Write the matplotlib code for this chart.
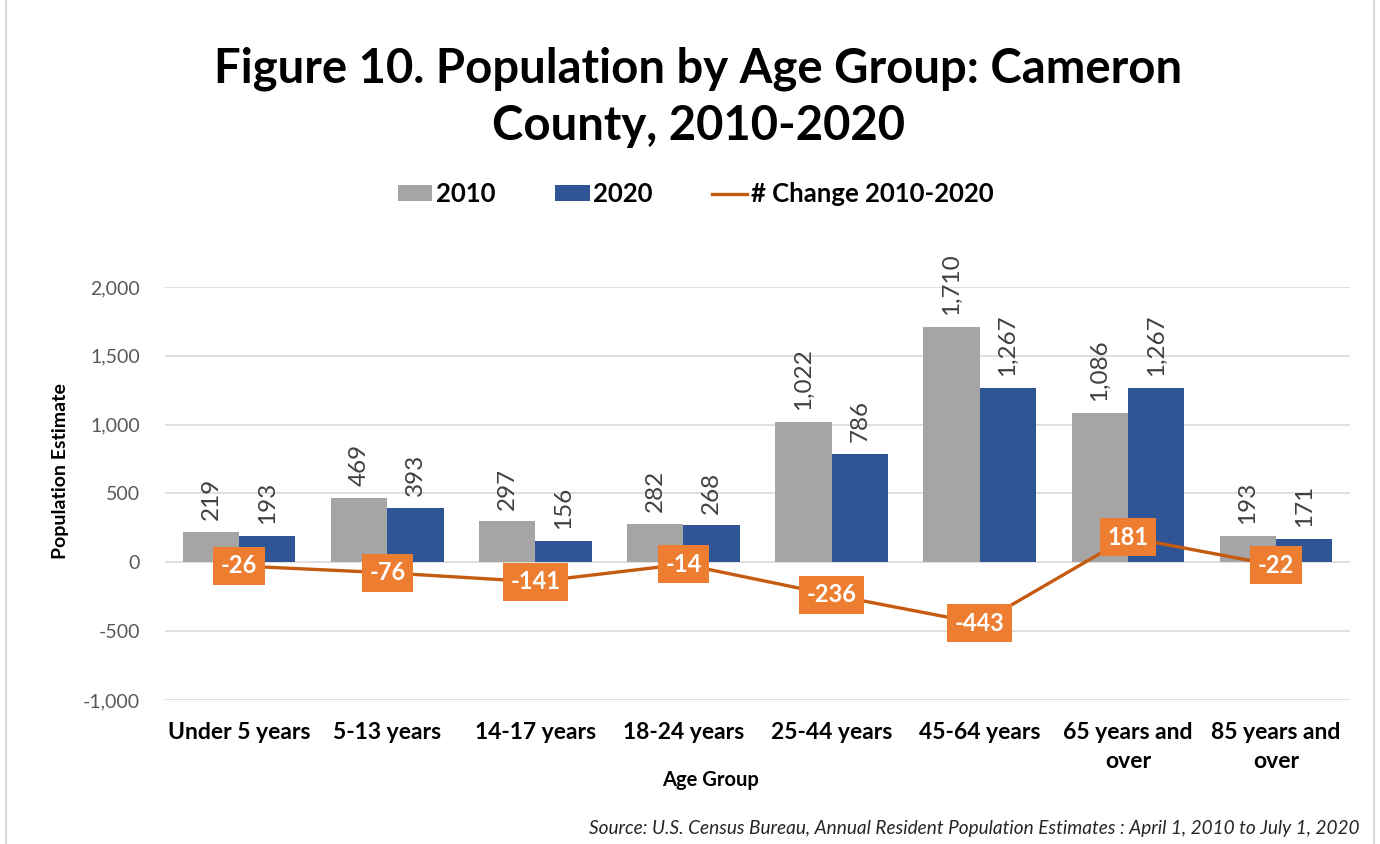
import numpy as np
import matplotlib.pyplot as plt
from matplotlib.patches import Rectangle

plt.rcParams['font.family'] = ['Lato', 'DejaVu Sans']

# data
age_groups = ['Under 5 years', '5-13 years', '14-17 years', '18-24 years',
              '25-44 years', '45-64 years', '65 years and\nover', '85 years and\nover']
pop_2010 = [219, 469, 297, 282, 1022, 1710, 1086, 193]
pop_2020 = [193, 393, 156, 268, 786, 1267, 1267, 171]
change = [-26, -76, -141, -14, -236, -443, 181, -22]

c2010 = '#A5A5A5'
c2020 = '#2F5597'
cline = '#C55A11'
cbox = '#ED7D31'

fig = plt.figure(figsize=(13.8, 8.44), dpi=100)
ax = fig.add_axes([0.1196, 0.1706, 0.8587, 0.4894])

x = np.arange(len(age_groups))
w = 0.38
b1 = ax.bar(x - w / 2, pop_2010, w, color=c2010, label='2010', zorder=2)
b2 = ax.bar(x + w / 2, pop_2020, w, color=c2020, label='2020', zorder=2)
ln, = ax.plot(x, change, color=cline, lw=2.4, label='# Change 2010-2020', zorder=3)

# rotated labels over the bars
for bars, vals in [(b1, pop_2010), (b2, pop_2020)]:
    for r, v in zip(bars, vals):
        ax.annotate(f'{v:,}', (r.get_x() + r.get_width() / 2, v),
                    xytext=(0, 8.5), textcoords='offset points',
                    rotation=90, ha='center', va='bottom',
                    fontsize=17.5, color='#404040')

# boxed labels on the change line
for xi, v in zip(x, change):
    ax.text(xi, v, f'{v}', ha='center', va='center', fontsize=17,
            fontweight='bold', color='white', zorder=5,
            bbox=dict(boxstyle='square,pad=0.32', fc=cbox, ec='none'))

ax.set_ylim(-1000, 2000)
ax.set_xlim(-0.5, len(age_groups) - 0.5)
ax.set_yticks(np.arange(-1000, 2001, 500))
ax.yaxis.set_major_formatter(plt.FuncFormatter(lambda v, p: f'{int(v):,}'))
ax.grid(axis='y', color='#D9D9D9', lw=1.2, zorder=0)
ax.set_axisbelow(True)
for s in ax.spines.values():
    s.set_visible(False)
ax.tick_params(axis='both', length=0)
ax.tick_params(axis='y', labelsize=14, labelcolor='#595959', pad=18)
ax.set_xticks(x)
ax.set_xticklabels(age_groups, fontsize=16.5, fontweight='bold', color='black',
                   linespacing=1.45)
ax.tick_params(axis='x', pad=16)

ax.set_ylabel('Population Estimate', fontsize=14, fontweight='bold')
ax.yaxis.set_label_coords(-0.081, 0.554)
ax.set_xlabel('Age Group', fontsize=14.5, fontweight='bold')
ax.xaxis.set_label_coords(0.4606, -0.17)

fig.text(0.506, 0.885, 'Figure 10. Population by Age Group: Cameron\nCounty, 2010-2020',
         ha='center', va='center', fontsize=34, fontweight='bold', linespacing=1.35)

fig.legend(handles=[b1, b2, ln], loc='center', bbox_to_anchor=(0.504, 0.77), ncol=3,
           frameon=False, prop=dict(size=18.5, weight='bold'),
           handlelength=1.35, handleheight=0.6, columnspacing=2.3, handletextpad=0.15)

fig.text(0.985, 0.008, 'Source: U.S. Census Bureau, Annual Resident Population Estimates : April 1, 2010 to July 1, 2020',
         ha='right', va='bottom', fontsize=13.7, style='italic', color='#262626')

fig.patches.append(Rectangle((0.004, -0.01), 0.992, 1.02, transform=fig.transFigure,
                             fill=False, ec='#D9D9D9', lw=1.5))

fig.savefig('out.png', dpi=100)
